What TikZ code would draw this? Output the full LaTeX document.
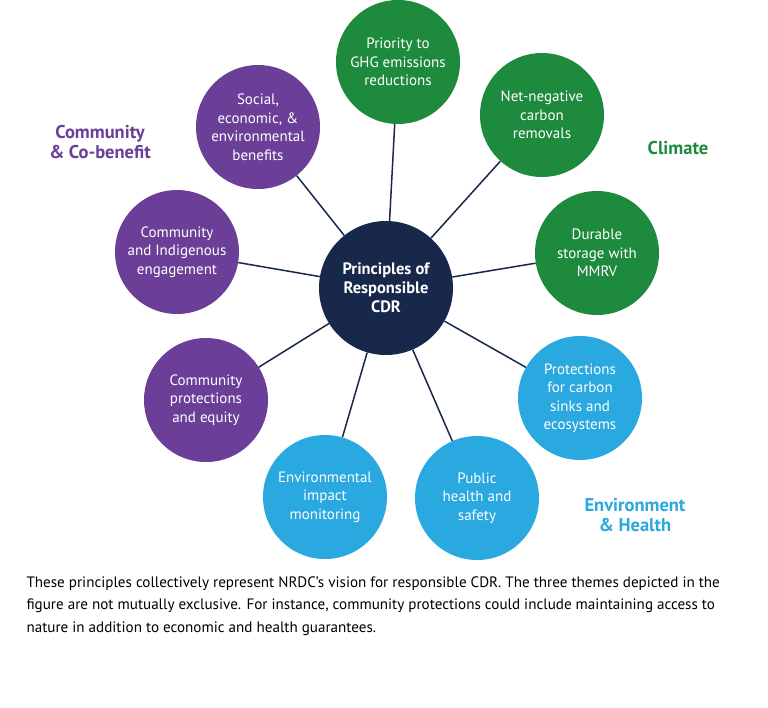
\documentclass[tikz,border=0pt]{standalone}
\usepackage{fontspec}
\setmainfont{PT Sans}
\definecolor{climgreen}{HTML}{1E8A3E}
\definecolor{compurple}{HTML}{6B3F98}
\definecolor{envblue}{HTML}{2AA8E0}
\definecolor{cdrnavy}{HTML}{17284A}
\tikzset{
  petal/.style={circle, minimum size=124pt, inner sep=0pt, text=white, align=center,
    font=\fontsize{15}{18.5}\selectfont},
  theme/.style={font=\bfseries\fontsize{18.5}{20.5}\selectfont, align=center},
  spoke/.style={cdrnavy, line width=1.5pt}
}
\begin{document}
\begin{tikzpicture}[x=1pt,y=-1pt]
\useasboundingbox[fill=white] (0,0) rectangle (768,707);

\node [circle, fill=cdrnavy, minimum size=134pt, text=white, align=center,
  font=\bfseries\fontsize{16.5}{19}\selectfont] (core) at (386,288) {Principles of\\Responsible\\CDR};

\node [petal, fill=climgreen] (ghg) at (398,62) {Priority to\\GHG emissions\\reductions};
\node [petal, fill=climgreen] (neg) at (542,115) {Net-negative\\carbon\\removals};
\node [petal, fill=climgreen] (dur) at (597,253) {Durable\\storage with\\MMRV};
\node [petal, fill=envblue] (sink) at (580,398) {Protections\\for carbon\\sinks and\\ecosystems};
\node [petal, fill=envblue] (pub) at (477,498) {Public\\health and\\safety};
\node [petal, fill=envblue] (mon) at (325,497) {Environmental\\impact\\monitoring};
\node [petal, fill=compurple] (equ) at (206,400) {Community\\protections\\and equity};
\node [petal, fill=compurple] (ind) at (177,252) {Community\\and Indigenous\\engagement};
\node [petal, fill=compurple] (soc) at (258,127) {Social,\\economic, \&\\environmental\\benefits};

\foreach \p in {ghg,neg,dur,sink,pub,mon,equ,ind,soc}
  \draw [spoke] (core) -- (\p);

\node [theme, text=compurple] (tcom) at (100,142) {Community\\\& Co-benefit};
\node [theme, text=climgreen] (tcli) at (678,148) {Climate};
\node [theme, text=envblue] (tenv) at (635,515) {Environment\\\& Health};

\node [anchor=north west, align=left, font=\fontsize{15.1}{22.5}\selectfont] (cap) at (23,573)
  {These principles collectively represent NRDC’s vision for responsible CDR. The three themes depicted in the\\
   figure are not mutually exclusive. For instance, community protections could include maintaining access to\\
   nature in addition to economic and health guarantees.};
\end{tikzpicture}
\end{document}
